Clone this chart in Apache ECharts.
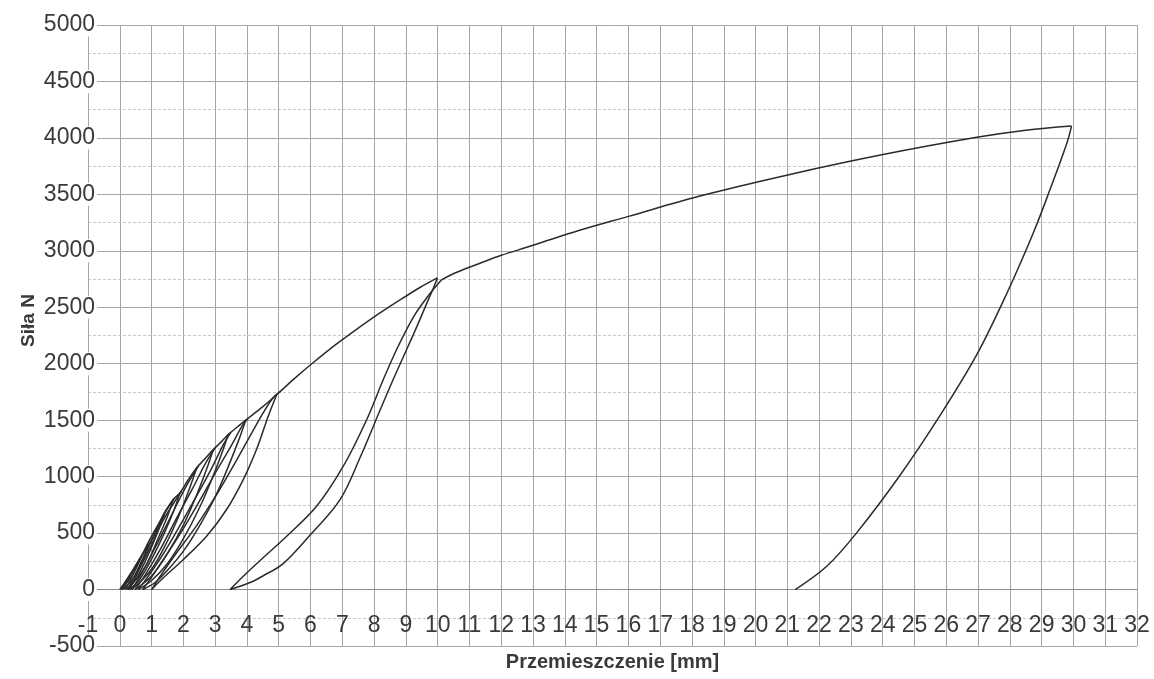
<!DOCTYPE html>
<html>
<head>
<meta charset="utf-8">
<script src="https://cdn.jsdelivr.net/npm/echarts@6/dist/echarts.min.js"></script>
<style>
html,body{margin:0;padding:0;background:#fff;}
#chart{width:1154px;height:679px;}
</style>
</head>
<body>
<div id="chart"></div>
<script>
// Axis settings (values)
const xRange = [-1, 32];
const yRange = [-500, 5000];
const xTitle = 'Przemieszczenie [mm]';
const yTitle = 'Siła N';

// Loading envelope up to the 10 mm peak
const envelopeA = [[0,0],[0.2,80],[0.42,177],[0.7,300],[0.95,413],[1.2,540],[1.37,649],[1.68,797],[1.89,856],[2.15,970],[2.42,1078],[2.7,1165],[2.94,1240],[3.2,1310],[3.41,1373],[3.7,1440],[3.96,1500],[4.5,1620],[4.94,1727],[5.5,1870],[6.04,2000],[6.7,2150],[7.35,2285],[7.9,2395],[8.4,2490],[8.9,2580],[9.44,2675],[9.99,2760]];
// Envelope after the 10 mm loop up to 30 mm
const envelopeB = [[10.13,2745],[10.6,2810],[11.33,2890],[12.0,2960],[12.9,3040],[14.27,3165],[16.0,3305],[18.25,3485],[20.98,3670],[23.97,3850],[26.96,4005],[28.5,4068],[29.94,4105]];
// Final unloading from 30 mm
const finalUnload = [[29.94,4105],[29.79,3950],[29.26,3540],[28.74,3160],[27.9,2620],[26.96,2080],[25.8,1540],[24.54,1010],[23.18,502],[22.24,206],[21.25,0]];

// Loop at 10 mm
const loop10Unload = [[9.99,2760],[9.85,2660],[9.65,2530],[9.3,2300],[8.95,2080],[8.6,1860],[8.19,1590],[7.56,1170],[6.93,797],[5.98,480],[5.14,230],[4.5,120],[4.1,62],[3.47,0]];
const loop10Reload = [[3.47,0],[3.885,118],[4.5,280],[5.14,443],[6.19,738],[7.03,1092],[7.77,1506],[8.29,1860],[8.75,2150],[9.25,2420],[9.7,2600],[10.13,2745]];
// Loop at 5 mm
const loop5Unload = [[4.94,1727],[4.67,1535],[4.30,1240],[3.885,974],[3.36,709],[2.73,472],[2.0,266],[1.37,104],[1.0,0]];
const loop5Reload = [[1.0,0],[1.3,130],[1.8,330],[2.4,560],[3.0,820],[3.5,1060],[4.0,1310],[4.5,1560],[4.8,1690],[5.05,1755]];
// Loop at 4 mm
const loop4Unload = [[3.96,1500],[3.75,1330],[3.4,1080],[3.0,820],[2.5,560],[2.0,340],[1.5,170],[1.1,60],[0.72,0]];
const loop4Reload = [[0.72,0],[1.0,110],[1.5,320],[2.0,540],[2.5,780],[3.0,1030],[3.5,1270],[3.85,1450],[4.05,1520]];
// Loop at 3.4 mm
const loop34Unload = [[3.41,1373],[3.2,1200],[2.9,980],[2.5,720],[2.0,450],[1.5,230],[1.0,80],[0.58,0]];
const loop34Reload = [[0.58,0],[0.9,120],[1.4,330],[1.9,570],[2.4,820],[2.9,1080],[3.25,1280],[3.5,1395]];
// Loop at 2.9 mm
const loop29Unload = [[2.94,1240],[2.75,1080],[2.45,860],[2.0,570],[1.5,320],[1.0,120],[0.48,0]];
const loop29Reload = [[0.48,0],[0.8,130],[1.3,370],[1.8,640],[2.3,900],[2.7,1120],[3.0,1255]];
// Loop at 2.4 mm
const loop24Unload = [[2.42,1078],[2.2,900],[1.9,680],[1.5,430],[1.0,180],[0.38,0]];
const loop24Reload = [[0.38,0],[0.7,150],[1.2,420],[1.7,700],[2.1,920],[2.48,1095]];
// Loop at 1.9 mm
const loop19Unload = [[1.89,856],[1.7,700],[1.4,500],[1.0,270],[0.6,80],[0.3,0]];
const loop19Reload = [[0.3,0],[0.6,170],[1.0,400],[1.4,630],[1.95,875]];
// Loop at 1.7 mm
const loop17Unload = [[1.68,797],[1.5,650],[1.2,450],[0.8,200],[0.25,0]];
const loop17Reload = [[0.25,0],[0.6,200],[1.0,440],[1.4,680],[1.72,810]];
// Loop at 1.4 mm
const loop14Unload = [[1.37,649],[1.15,480],[0.8,250],[0.5,90],[0.18,0]];
const loop14Reload = [[0.18,0],[0.5,180],[0.9,420],[1.2,570],[1.42,665]];
// Loop at 1 mm
const loop10sUnload = [[0.95,413],[0.75,280],[0.45,110],[0.1,0]];
const loop10sReload = [[0.1,0],[0.4,160],[0.7,310],[1.0,430]];
// Loop at 0.6 mm
const loop06Unload = [[0.6,260],[0.4,130],[0.05,0]];
const loop06Reload = [[0.05,0],[0.35,140],[0.63,270]];

const curves = [envelopeA, envelopeB, finalUnload,
  loop10Unload, loop10Reload, loop5Unload, loop5Reload, loop4Unload, loop4Reload,
  loop34Unload, loop34Reload, loop29Unload, loop29Reload, loop24Unload, loop24Reload,
  loop19Unload, loop19Reload, loop17Unload, loop17Reload, loop14Unload, loop14Reload,
  loop10sUnload, loop10sReload, loop06Unload, loop06Reload];

const chart = echarts.init(document.getElementById('chart'), null, {renderer: 'canvas'});
const font = 'Liberation Sans';
chart.setOption({
  animation: false,
  backgroundColor: '#fff',
  grid: {left: 88, right: 17, top: 25, bottom: 33, containLabel: false, outerBoundsMode: 'none'},
  xAxis: {
    type: 'value', min: xRange[0], max: xRange[1], interval: 1,
    axisLine: {show: true, onZero: true, lineStyle: {color: '#8c8c8c', width: 1}},
    axisTick: {show: false},
    axisLabel: {fontFamily: font, fontSize: 23, color: '#3a3a3a', margin: -32, showMinLabel: true, showMaxLabel: true,
      formatter: function (v) { return String(v); }},
    splitLine: {show: true, lineStyle: {color: '#a6a6a6', width: 1}},
    name: xTitle, nameLocation: 'middle', nameGap: 6, nameMoveOverlap: false,
    nameTextStyle: {fontFamily: font, fontSize: 20, fontWeight: 'bold', color: '#3a3a3a'}
  },
  yAxis: {
    type: 'value', min: yRange[0], max: yRange[1], interval: 500,
    axisLine: {show: true, onZero: false, lineStyle: {color: '#a6a6a6', width: 1}},
    axisTick: {show: false},
    axisLabel: {fontFamily: font, fontSize: 23, color: '#3a3a3a', margin: -9, backgroundColor: '#fff', padding: [0, 2, 0, 0],
      formatter: function (v) { return String(v); }},
    splitLine: {show: true, lineStyle: {color: '#a6a6a6', width: 1}},
    minorTick: {show: false, splitNumber: 2},
    minorSplitLine: {show: true, lineStyle: {color: '#c8c8c8', width: 1, type: [3, 2]}},
    name: yTitle, nameLocation: 'middle', nameGap: 50, nameRotate: 90, nameMoveOverlap: false,
    nameTextStyle: {fontFamily: font, fontSize: 19, fontWeight: 'bold', color: '#3a3a3a', padding: [0, 0, 0, 30]}
  },
  series: curves.map(function (d) {
    return {
      type: 'line', data: d, showSymbol: false, smooth: 0.35, smoothMonotone: null,
      lineStyle: {color: '#2b2b2b', width: 1.5}, silent: true, z: 3
    };
  })
});
</script>
</body>
</html>
